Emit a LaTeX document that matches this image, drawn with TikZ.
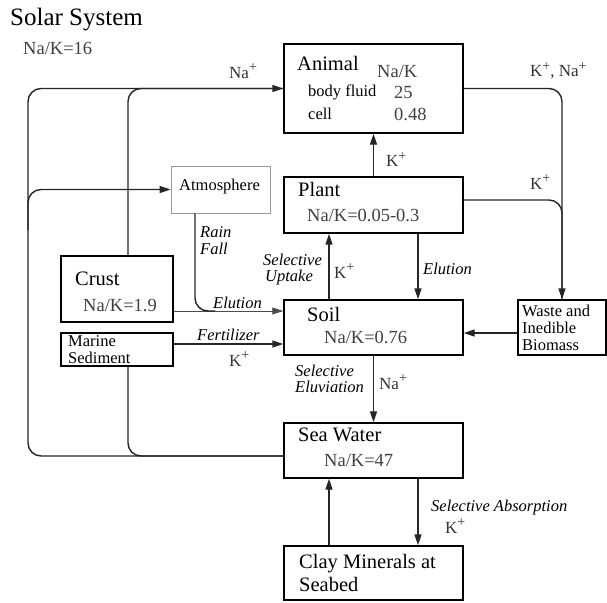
\documentclass[tikz,border=0pt]{standalone}
\usepackage{fontspec}
\setmainfont{Liberation Serif}
\usetikzlibrary{arrows.meta}

\newcommand\plusup{\raisebox{0.38em}{\fontsize{14}{14}\selectfont +}}

\tikzset{
  boxnode/.style={draw=black, line width=1.4pt, inner sep=0pt},
  txt/.style={anchor=base west, inner sep=0pt},
  heading/.style={txt, font=\fontsize{20.5}{24}\selectfont},
  ratiotxt/.style={txt, text=black!75, font=\fontsize{18.5}{22}\selectfont},
  smalltxt/.style={txt, font=\fontsize{16.5}{20}\selectfont},
  ionlbl/.style={txt, text=black!80, font=\fontsize{17}{20}\selectfont},
  noteit/.style={txt, font=\itshape\fontsize{16.5}{20}\selectfont},
  flowline/.style={draw=black!85, line width=1.4pt, rounded corners=13pt},
  flowarr/.style={-{Triangle[length=11pt,width=7pt]}},
}

\begin{document}
\begin{tikzpicture}[x=1pt,y=-1pt]
\useasboundingbox (0,0) rectangle (607,602);

% boxes
\node[boxnode, minimum width=179pt, minimum height=89pt] (animal) at (373.5,88.5) {};
\node[boxnode, minimum width=179pt, minimum height=56pt] (plant) at (373.5,205) {};
\node[boxnode, minimum width=179pt, minimum height=55pt] (soil) at (373.5,327.5) {};
\node[boxnode, minimum width=179pt, minimum height=55pt] (sea) at (373.5,450.5) {};
\node[boxnode, minimum width=179pt, minimum height=54pt] (clay) at (373.5,573) {};
\node[boxnode, minimum width=88pt, minimum height=55pt] (waste) at (562,327.5) {};
\node[boxnode, draw=black!40, line width=0.8pt, minimum width=99pt, minimum height=47pt] (atmos) at (220.5,189.5) {};
\node[boxnode, minimum width=112pt, minimum height=66pt] (crust) at (117,289) {};
\node[boxnode, minimum width=112pt, minimum height=33pt] (marine) at (117,349.5) {};

% texts
\node[txt, font=\fontsize{25}{30}\selectfont] (title) at (10,26) {Solar System};
\node[ratiotxt] (solarR) at (23,54.5) {Na/K=16};

\node[heading] (animalT) at (297,70.5) {Animal};
\node[ratiotxt] (animalR) at (377,77.5) {Na/K};
\node[smalltxt] (fluidT) at (308,96.5) {body fluid};
\node[ratiotxt] (fluidR) at (394,98) {25};
\node[smalltxt] (cellT) at (308,119) {cell};
\node[ratiotxt] (cellR) at (394,120) {0.48};

\node[heading] (plantT) at (298,196.5) {Plant};
\node[ratiotxt] (plantR) at (307,221.5) {Na/K=0.05-0.3};
\node[heading] (soilT) at (307,321.5) {Soil};
\node[ratiotxt] (soilR) at (324,343) {Na/K=0.76};
\node[heading] (seaT) at (298,441.5) {Sea Water};
\node[ratiotxt] (seaR) at (324,466.5) {Na/K=47};
\node[heading] (clayT1) at (299,568) {Clay Minerals at};
\node[heading] (clayT2) at (299,591.5) {Seabed};
\node[heading] (crustT) at (75,285) {Crust};
\node[ratiotxt] (crustR) at (83,311) {Na/K=1.9};
\node[smalltxt] (atmosT) at (179,190) {Atmosphere};
\node[smalltxt] (marineT1) at (68,346.5) {Marine};
\node[smalltxt] (marineT2) at (68,363) {Sediment};
\node[smalltxt] (wasteT1) at (522,316.5) {Waste and};
\node[smalltxt] (wasteT2) at (522,333) {Inedible};
\node[smalltxt] (wasteT3) at (522,350) {Biomass};

% labels on connectors
\node[ionlbl] (naTop) at (229,78) {Na\plusup};
\node[ionlbl] (knaLbl) at (530,76.5) {K\plusup, Na\plusup};
\node[ionlbl] (kAnimal) at (386,166.5) {K\plusup};
\node[ionlbl] (kWaste) at (530,189) {K\plusup};
\node[noteit] (uptake1) at (263,265) {Selective};
\node[noteit] (uptake2) at (265,281.5) {Uptake};
\node[ionlbl] (kUptake) at (334,278) {K\plusup};
\node[noteit] (elutionP) at (423,274) {Elution};
\node[noteit] (rain1) at (200,237) {Rain};
\node[noteit] (rain2) at (200,254) {Fall};
\node[noteit] (elutionC) at (213,308) {Elution};
\node[noteit] (fert) at (197,340) {Fertilizer};
\node[ionlbl] (kFert) at (229,366) {K\plusup};
\node[noteit] (eluv1) at (295,376) {Selective};
\node[noteit] (eluv2) at (295,392.5) {Eluviation};
\node[ionlbl] (naSea) at (379,389) {Na\plusup};
\node[noteit] (absorb) at (431,511.5) {Selective Absorption};
\node[ionlbl] (kAbsorb) at (445,533) {K\plusup};

% connectors
\coordinate (loopTurn) at (28,230);
\coordinate (rainJoin) at (215,311);
\draw[flowline, flowarr] ([yshift=-5.5pt]sea.west) -- (28,456) -- (28,88.5) -- (animal.west);
\draw[flowline, flowarr] (loopTurn) |- (atmos.west);
\draw[flowline] ([xshift=11pt]crust.north) |- (animal.west);
\draw[flowline] ([xshift=11pt]marine.south) |- ([yshift=-5.5pt]sea.west);
\draw[draw=black!70, line width=0.8pt, flowarr] ([yshift=-22pt]crust.east) -- ([yshift=16.5pt]soil.west);
\draw[flowline] ([xshift=-25.5pt]atmos.south) |- (rainJoin);
\draw[flowline, flowarr] ([yshift=5.5pt]marine.east) -- ([yshift=-16.5pt]soil.west);

\draw[flowline, flowarr] (plant.north) -- (animal.south);
\draw[flowline, flowarr] ([xshift=-44.5pt]soil.north) -- ([xshift=-44.5pt]plant.south);
\draw[flowline, flowarr] ([xshift=44.5pt]plant.south) -- ([xshift=44.5pt]soil.north);
\draw[flowline, flowarr] (animal.east) -| (waste.north);
\draw[flowline] ([yshift=5pt]plant.east) -| (waste.north);
\draw[flowline, flowarr] ([yshift=-5.5pt]waste.west) -- ([yshift=-5.5pt]soil.east);
\draw[flowline, flowarr] (soil.south) -- (sea.north);
\draw[flowline, flowarr] ([xshift=44.5pt]sea.south) -- ([xshift=44.5pt]clay.north);
\draw[flowline, flowarr] ([xshift=-44.5pt]clay.north) -- ([xshift=-44.5pt]sea.south);

\end{tikzpicture}
\end{document}
